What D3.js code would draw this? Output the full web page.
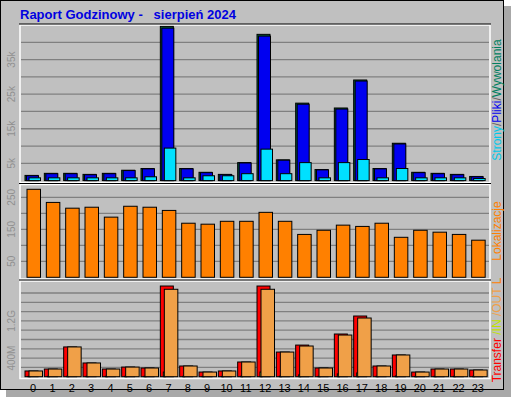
<!DOCTYPE html>
<html>
<head>
<meta charset="utf-8">
<script src="https://cdn.jsdelivr.net/npm/d3@7"></script>
<style>
  body { margin: 0; background: #fff; }
  svg { font-family: "Liberation Sans", Arial, sans-serif; }
</style>
</head>
<body>
<svg id="chart" width="512" height="400"></svg>
<script>
// hourly data
const hours = d3.range(24);
const hits = [1500, 2100, 2100, 1800, 2100, 3000, 3500, 44600, 3500, 2400, 1800, 5200, 42300, 6000, 22400, 3200, 21000, 29100, 3500, 10800, 2400, 2100, 1800, 1200];
const files = [1400, 2000, 2000, 1700, 2000, 2900, 3400, 44100, 3400, 2300, 1700, 5100, 41800, 5900, 22100, 3100, 20700, 28800, 3400, 10600, 2300, 2000, 1700, 1100];
const pages = [800, 800, 800, 800, 800, 800, 1100, 9400, 800, 1400, 1400, 2000, 9100, 2000, 5200, 800, 5200, 6100, 800, 3500, 800, 800, 800, 600];
const visits = [275, 234, 216, 219, 188, 222, 219, 209, 169, 166, 175, 175, 203, 175, 134, 147, 163, 159, 169, 125, 147, 141, 134, 116];
const transfer = [123, 165, 640, 295, 165, 207, 187, 1950, 230, 100, 123, 316, 1950, 530, 680, 187, 918, 1305, 230, 467, 100, 165, 165, 144];
const traffOut = [123, 165, 640, 295, 165, 207, 187, 1880, 230, 100, 123, 316, 1880, 530, 660, 187, 896, 1262, 230, 467, 100, 165, 165, 144];
const traffIn = [8, 8, 10, 8, 8, 8, 8, 100, 8, 6, 6, 10, 100, 10, 40, 8, 60, 80, 8, 15, 6, 8, 8, 8];
const topTicks = [5000, 15000, 25000, 35000];
const midTicks = [50, 150, 250];
const botTicks = [400, 1200];

const svg = d3.select('#chart');

// frame + shadow
svg.append('rect').attr('x', 6).attr('y', 6).attr('width', 505).attr('height', 391).attr('fill', '#a8a8a8');
svg.append('rect').attr('x', 0.5).attr('y', 0.5).attr('width', 503).attr('height', 389)
  .attr('fill', '#c0c0c0').attr('stroke', '#000');

svg.append('text').attr('x', 20).attr('y', 19)
  .attr('fill', '#0000e0').attr('font-size', 13).attr('font-weight', 'bold')
  .attr('xml:space', 'preserve')
  .text('Raport Godzinowy -   sierpień 2024');

const x = d3.scaleBand().domain(hours).range([23.5, 487.5]);
const left = 20, right = 490;

function panel(top, bottom) {
  svg.append('rect').attr('x', left).attr('y', top).attr('width', right - left).attr('height', bottom - top)
    .attr('fill', '#c0c0c0').attr('stroke', '#fff').attr('stroke-width', 1.5);
  svg.append('line').attr('x1', left - 1).attr('x2', right + 1).attr('y1', top - 1).attr('y2', top - 1).attr('stroke', '#000');
}

function grid(scale, values, x2) {
  svg.append('g').selectAll('line').data(values).join('line')
    .attr('x1', left + 1).attr('x2', x2 || right - 1)
    .attr('y1', d => scale(d)).attr('y2', d => scale(d))
    .attr('stroke', '#808080').attr('stroke-width', 1.3);
}

function yLabels(scale, ticks, fmt) {
  svg.append('g').selectAll('text').data(ticks).join('text')
    .attr('transform', d => `translate(15,${scale(d)}) rotate(-90)`)
    .attr('text-anchor', 'middle').attr('font-size', 10).attr('fill', '#909090')
    .text(fmt);
}

function sideLabel(y, parts) {
  const t = svg.append('text').attr('transform', `translate(501,${y}) rotate(-90)`)
    .attr('text-anchor', 'middle').attr('font-size', 12);
  parts.forEach(([s, c]) => t.append('tspan').attr('fill', c).text(s));
}

function bars(scale, data, dx, w, fill) {
  svg.append('g').selectAll('rect').data(hours).join('rect')
    .attr('x', d => x(d) + dx).attr('width', w)
    .attr('y', d => scale(data[d])).attr('height', d => scale(0) - scale(data[d]))
    .attr('fill', fill).attr('stroke', '#000').attr('stroke-width', 1);
}

// top panel: pages / files / hits
const yTop = d3.scaleLinear().domain([0, 40000]).range([180.6, 42.3]);
panel(25, 182.5);
grid(yTop, d3.range(5000, 45000, 5000));
bars(yTop, hits, 1.5, 13, '#006040');
bars(yTop, files, 3, 12, '#0000f0');
bars(yTop, pages, 5.5, 11.5, '#00e0ff');
yLabels(yTop, topTicks, d => (d / 1000) + 'k');
sideLabel(100, [['Strony', '#00c8e8'], ['/', '#606060'], ['Pliki', '#0000f0'], ['/', '#606060'], ['Wywolania', '#008060']]);

// middle panel: visits
const yMid = d3.scaleLinear().domain([0, 250]).range([277.3, 197.3]);
panel(184.5, 279);
grid(yMid, [50, 100, 150, 200, 250]);
bars(yMid, visits, 3.5, 13.5, '#ff8000');
yLabels(yMid, midTicks, d => d);
sideLabel(231, [['Lokalizacje', '#ff8000']]);

// bottom panel: transfer
const yBot = d3.scaleLinear().domain([0, 2000]).range([376.7, 283.7]);
panel(281, 378.5);
grid(yBot, d3.range(200, 2000, 200));
bars(yBot, transfer, 1.5, 13, '#ff0000');
bars(yBot, traffIn, 4.5, 2, '#c8f040');
bars(yBot, traffOut, 5.5, 13.5, '#f0a048');
yLabels(yBot, botTicks, d => d >= 1000 ? (d / 1000) + 'G' : d + 'M');
sideLabel(330, [['Transfer ', '#ff0000'], ['/IN ', '#c0e000'], ['/OUT ', '#f0a048'], ['L', '#ff8000']]);

// hour labels
svg.append('g').selectAll('text').data(hours).join('text')
  .attr('x', d => x(d) + x.bandwidth() / 2).attr('y', 392)
  .attr('text-anchor', 'middle').attr('font-size', 11).attr('fill', '#000')
  .text(d => d);
</script>
</body>
</html>
